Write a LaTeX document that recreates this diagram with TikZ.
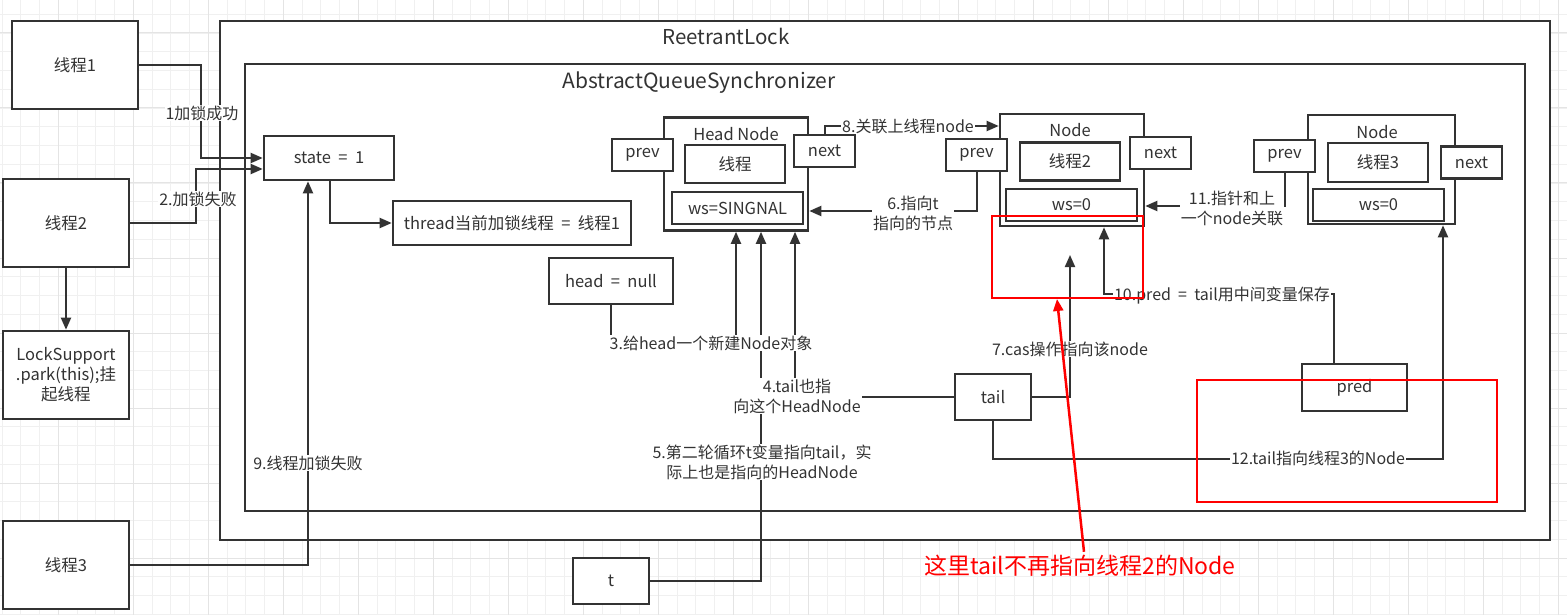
\documentclass[tikz,border=0pt]{standalone}
\usepackage{fontspec}
\setmainfont{Noto Sans CJK SC}
\usetikzlibrary{arrows.meta,calc,positioning}
\definecolor{ink}{RGB}{51,51,51}
\definecolor{redmk}{RGB}{255,0,0}
\definecolor{gridc}{RGB}{240,240,240}
\definecolor{gridd}{RGB}{228,228,228}
\newcommand{\boxfont}{\fontsize{16.5}{20}\selectfont\spaceskip=0.45em\relax}
\newcommand{\labfont}{\fontsize{16}{20}\selectfont\spaceskip=0.45em\relax}

\begin{document}
\begin{tikzpicture}[x=1pt,y=-1pt,>={Triangle[length=12pt,width=10pt]},
  box/.style={draw=ink,line width=2.6pt,fill=white,text=ink,font=\boxfont,inner sep=0pt,align=center},
  lab/.style={fill=white,text=ink,font=\labfont,inner sep=1pt,align=center},
  con/.style={draw=ink,line width=2pt},
  frame/.style={draw=ink,line width=2.6pt,fill=white}]
  \useasboundingbox (0,0) rectangle (1567,615);
  % background grid
  \foreach \i in {0,...,84} \draw[gridc,line width=0.8pt] (2.05+18.75*\i,0) -- (2.05+18.75*\i,615);
  \foreach \j in {0,...,33} \draw[gridc,line width=0.8pt] (0,14.25+18.75*\j) -- (1567,14.25+18.75*\j);
  \foreach \i in {1,...,21} \draw[gridd,line width=1pt] (-16.7+75*\i,0) -- (-16.7+75*\i,615);
  \foreach \j in {0,...,7} \draw[gridd,line width=1pt] (0,33+75*\j) -- (1567,33+75*\j);
  % ReetrantLock and AQS frames
  \draw[frame] (220,21) rectangle (1550,540);
  \node[text=ink,font=\fontsize{20.5}{24}\selectfont] (rl) at (726,36) {ReetrantLock};
  \draw[frame] (245,64) rectangle (1525,511);
  \node[text=ink,font=\fontsize{21}{24}\selectfont] (aqs) at (699,83) {AbstractQueueSynchronizer};
  % threads
  \node[box,minimum width=126,minimum height=88] (t1) at (75,65) {线程1};
  \node[box,minimum width=126,minimum height=88] (t2) at (66,223) {线程2};
  \node[box,minimum width=126,minimum height=88] (ls) at (66,375) {LockSupport\\.park(this);挂\\起线程};
  \node[box,minimum width=126,minimum height=88] (t3) at (66,565) {线程3};
  % lock state
  \node[box,minimum width=130,minimum height=44] (st) at (329,158) {state = 1};
  \node[box,minimum width=238,minimum height=44] (th) at (512,223) {thread当前加锁线程 = 线程1};
  \node[box,minimum width=124,minimum height=46] (hd) at (611,281) {head = null};
  % head node
  \node[box,minimum width=144,minimum height=113] (hn) at (736,174) {};
  \node[text=ink,font=\fontsize{16.5}{20}\selectfont] (hnt) at (736,134) {Head Node};
  \node[box,minimum width=100,minimum height=38] (hnth) at (735,164) {线程};
  \node[box,minimum width=131,minimum height=32] (hnws) at (737.5,208) {ws=SINGNAL};
  \node[box,minimum width=61,minimum height=32] (hnp) at (642.5,155) {prev};
  \node[box,minimum width=61,minimum height=32] (hnn) at (824.5,151) {next};
  % node of thread 2
  \node[box,minimum width=144,minimum height=112] (n2) at (1072,170) {};
  \node[text=ink,font=\boxfont] (n2t) at (1070,130) {Node};
  \node[box,minimum width=100,minimum height=38] (n2th) at (1070,161.5) {线程2};
  \node[box,minimum width=131,minimum height=32] (n2ws) at (1071.5,205) {ws=0};
  \node[box,minimum width=61,minimum height=32] (n2p) at (976.5,155) {prev};
  \node[box,minimum width=61,minimum height=32] (n2n) at (1160.5,153) {next};
  % node of thread 3
  \node[box,minimum width=147,minimum height=109] (n3) at (1381.5,169.5) {};
  \node[text=ink,font=\boxfont] (n3t) at (1377,132) {Node};
  \node[box,minimum width=100,minimum height=39] (n3th) at (1378,162.5) {线程3};
  \node[box,minimum width=131,minimum height=32] (n3ws) at (1378.5,205) {ws=0};
  \node[box,minimum width=61,minimum height=32] (n3p) at (1284.5,156) {prev};
  \node[box,minimum width=61,minimum height=32] (n3n) at (1471.5,162.5) {next};
  % variables
  \node[box,minimum width=76,minimum height=46] (tl) at (993,397) {tail};
  \node[box,minimum width=105,minimum height=47] (pr) at (1354.5,387.5) {pred};
  \node[box,minimum width=76,minimum height=46] (tv) at (611,581) {t};
  \coordinate (c7) at (1070,255);
  % connectors
  \draw[con,->] (t1.east) -| (201,158) -- (st.west);
  \draw[con,->] (t2.east) -| (196,169) -- ([yshift=-11pt]st.west);
  \draw[con,->] (t2.south) -- (ls.north);
  \draw[con,->] (t3.east) -| ([xshift=-21pt]st.south);
  \draw[con,->] ([xshift=1pt]st.south) |- (th.west);
  \draw[con,->] (hd.south) -- (611,343) -| (hn.south);
  \draw[con,->] (tv.east) -| ([xshift=25pt]hn.south);
  \draw[con,->] (tl.west) -| ([xshift=59pt]hn.south);
  \draw[con,->] (n2p.south) |- ([yshift=-37pt]hn.east);
  \draw[con,->] (hnn.north) |- ([yshift=44pt]n2.west);
  \draw[con,->] (n3p.south) |- ([yshift=-36pt]n2.east);
  \draw[con,->] (tl.east) -| (c7);
  \draw[con,->] ([xshift=-21pt]pr.north) -- ++(0,-69) -| ([xshift=32pt]n2.south);
  \draw[con,->] (tl.south) -- ++(0,38) -| ([xshift=61.5pt]n3.south);
  % labels
  \node[lab] (l1) at (202,113) {1加锁成功};
  \node[lab] (l2) at (198,199) {2.加锁失败};
  \node[lab] (l9) at (308,463) {9.线程加锁失败};
  \node[lab] (l3) at (711,343) {3.给head一个新建Node对象};
  \node[lab] (l4) at (797,396) {4.tail也指\\向这个HeadNode};
  \node[lab] (l5) at (762,462) {5.第二轮循环t变量指向tail，实\\际上也是指向的HeadNode};
  \node[lab] (l6) at (913,213) {6.指向t\\指向的节点};
  \node[lab] (l7) at (1070,349) {7.cas操作指向该node};
  \node[lab] (l8) at (908,126) {8.关联上线程node};
  \node[lab] (l10) at (1222,296) {10.pred = tail用中间变量保存};
  \node[lab] (l11) at (1232,208) {11.指针和上\\一个node关联};
  \node[lab] (l12) at (1318,458) {12.tail指向线程3的Node};
  % red marks
  \node[draw=redmk,line width=2pt,minimum width=151,minimum height=82] (rb1) at (1067.5,257) {};
  \node[draw=redmk,line width=2pt,minimum width=300,minimum height=122] (rb2) at (1347,441) {};
  \node[text=redmk,font=\fontsize{23}{26}\selectfont] (note) at (1080,566) {这里tail不再指向线程2的Node};
  \draw[redmk,line width=2.5pt,->] ([xshift=4pt]note.north) -- ([xshift=-10.5pt]rb1.south);
\end{tikzpicture}
\end{document}
